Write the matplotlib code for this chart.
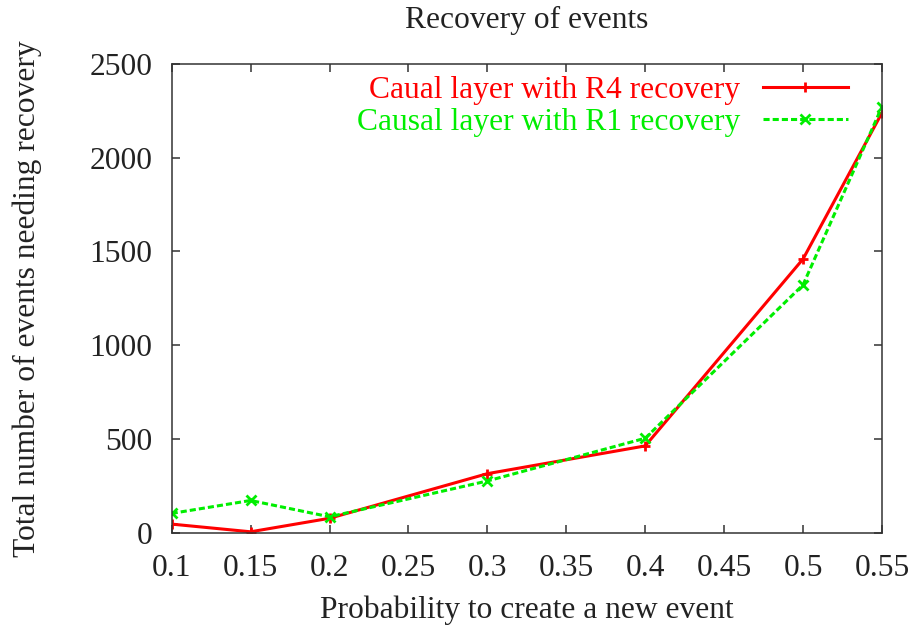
import matplotlib
matplotlib.use("Agg")
import matplotlib.pyplot as plt

# Probability of creating a new event
prob = [0.1, 0.15, 0.2, 0.3, 0.4, 0.5, 0.55]
# Total number of events needing recovery
r4_recovery = [46, 5, 77, 315, 463, 1460, 2240]
r1_recovery = [103, 172, 85, 276, 504, 1322, 2272]

x_ticks = [0.1, 0.15, 0.2, 0.25, 0.3, 0.35, 0.4, 0.45, 0.5, 0.55]
x_tick_labels = ["0.1", "0.15", "0.2", "0.25", "0.3", "0.35", "0.4", "0.45", "0.5", "0.55"]
y_ticks = [0, 500, 1000, 1500, 2000, 2500]

FS = 22.7
plt.rcParams["font.family"] = ["Liberation Serif", "DejaVu Serif"]
plt.rcParams["font.size"] = FS
text_color = "#222222"
axis_color = "#333333"

fig = plt.figure(figsize=(9.17, 6.30), dpi=100)
ax = fig.add_axes([0.1872, 0.1544, 0.9618 - 0.1872, 0.8984 - 0.1544])

ax.plot(prob, r4_recovery, color="#ff0000", lw=2.2, marker="+", ms=7, mew=2,
        label="Caual layer with R4 recovery")
ax.plot(prob, r1_recovery, color="#00ee00", lw=2.2, ls=(0, (2, 1)), marker="x",
        ms=7, mew=2, label="Causal layer with R1 recovery")

ax.set_xlim(0.1, 0.55)
ax.set_ylim(0, 2500)
ax.set_xticks(x_ticks)
ax.set_xticklabels(x_tick_labels)
ax.set_yticks(y_ticks)

for s in ax.spines.values():
    s.set_color(axis_color)
    s.set_linewidth(1.1)
ax.tick_params(direction="in", length=6, width=1.1, color=axis_color,
               labelcolor=text_color, top=True, right=True)
ax.tick_params(axis="x", pad=15)
ax.tick_params(axis="y", pad=14)

ax.set_title("Recovery of events", color=text_color, fontsize=FS, pad=26)
ax.set_xlabel("Probability to create a new event", color=text_color, labelpad=9)
ax.set_ylabel("Total number of events needing recovery", color=text_color, labelpad=34)

leg = ax.legend(loc="upper right", bbox_to_anchor=(0.952, 0.974), frameon=False,
                markerfirst=False, borderpad=0, borderaxespad=0, labelspacing=0.1,
                handlelength=2.7, handletextpad=0.72, numpoints=1)
for txt, line in zip(leg.get_texts(), leg.get_lines()):
    txt.set_color(line.get_color())

fig.savefig("out.png", dpi=100)
